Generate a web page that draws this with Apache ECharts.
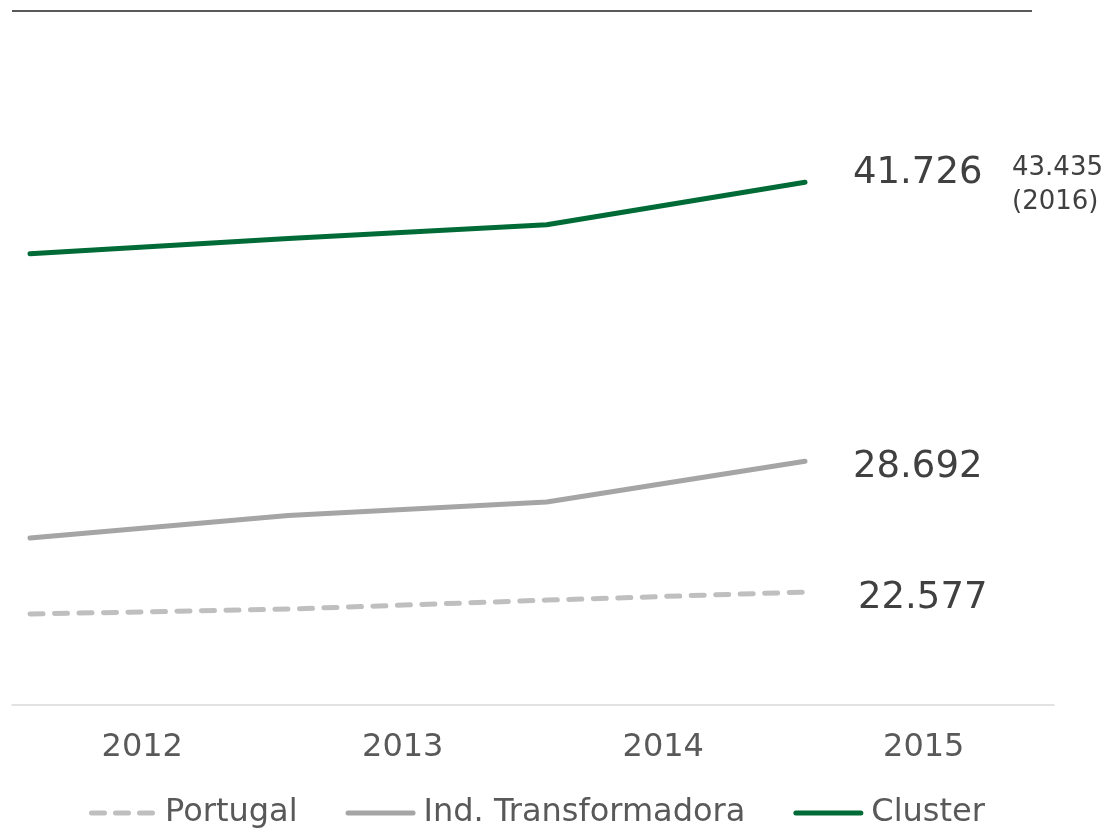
<!DOCTYPE html>
<html>
<head>
<meta charset="utf-8">
<style>
    html, body { margin: 0; padding: 0; background: #fff; }
    #chart { width: 1109px; height: 828px; }
</style>
<script src="https://cdn.jsdelivr.net/npm/echarts@6/dist/echarts.min.js"></script>
</head>
<body>
<div id="chart"></div>
<script>
// valores em milhares de euros (leitura do gráfico)
const years = ['2012', '2013', '2014', '2015'];
const portugal = [21.55, 21.78, 22.20, 22.577];
const indTransformadora = [25.10, 26.15, 26.78, 28.692];
const cluster = [38.38, 39.10, 39.74, 41.726];
const cluster2016 = 43.435;

const FONT = '"DejaVu Sans", Verdana, sans-serif';

// ícones da legenda: traço contínuo e tracejado
const ICON_SOLID = 'path://M2.5,0h65a2.5,2.5,0,0,1,0,5h-65a2.5,2.5,0,0,1,0,-5z';
const ICON_DASH = 'path://M2.5,0h13a2.5,2.5,0,0,1,0,5h-13a2.5,2.5,0,0,1,0,-5z'
    + 'M26.5,0h13a2.5,2.5,0,0,1,0,5h-13a2.5,2.5,0,0,1,0,-5z'
    + 'M50.5,0h13a2.5,2.5,0,0,1,0,5h-13a2.5,2.5,0,0,1,0,-5z';

function fmt(v) {
    return Number(v).toFixed(3);
}

function endLabel(distance, offsetY) {
    return {
        show: true,
        formatter: (p) => fmt(p.value),
        fontFamily: FONT,
        fontSize: 37,
        color: '#404040',
        distance: distance,
        offset: [0, offsetY]
    };
}

const chart = echarts.init(document.getElementById('chart'));

chart.setOption({
    animation: false,
    grid: [
        // eixo das categorias
        { left: 12, right: 55, top: 10, bottom: 123 },
        // área das linhas
        { left: 30, right: 304, top: 10, bottom: 123 }
    ],
    xAxis: [
        {
            gridIndex: 0,
            type: 'category',
            data: years,
            boundaryGap: true,
            axisLine: { lineStyle: { color: '#d9d9d9', width: 1.5 } },
            axisTick: { show: false },
            axisLabel: {
                color: '#595959',
                fontFamily: FONT,
                fontSize: 32,
                margin: 27
            }
        },
        {
            gridIndex: 1,
            type: 'category',
            data: years,
            boundaryGap: false,
            show: false
        }
    ],
    yAxis: [
        { gridIndex: 0, type: 'value', show: false, min: 0, max: 1 },
        {
            gridIndex: 1,
            type: 'value',
            min: 17.3,
            max: 49.77,
            show: false
        }
    ],
    legend: {
        left: 84,
        top: 792,
        itemWidth: 70,
        itemHeight: 5,
        itemGap: 48,
        textStyle: { color: '#595959', fontFamily: FONT, fontSize: 32, padding: [0, 0, 0, 3] },
        data: [
            { name: 'Portugal', icon: ICON_DASH },
            { name: 'Ind. Transformadora', icon: ICON_SOLID },
            { name: 'Cluster', icon: ICON_SOLID }
        ]
    },
    graphic: [
        {
            type: 'line',
            shape: { x1: 12, y1: 11, x2: 1032, y2: 11 },
            style: { stroke: '#595959', lineWidth: 2 }
        },
        {
            type: 'text',
            left: 1012,
            top: 151,
            style: {
                text: fmt(cluster2016) + '\n(2016)',
                fill: '#404040',
                font: '26px ' + FONT,
                lineHeight: 34
            }
        }
    ],
    series: [
        {
            name: 'Portugal',
            type: 'line',
            xAxisIndex: 1,
            yAxisIndex: 1,
            data: portugal,
            symbol: 'none',
            lineStyle: { color: '#bfbfbf', width: 5, type: [13, 11.5], cap: 'round' },
            itemStyle: { color: '#bfbfbf' },
            endLabel: endLabel(53, 6)
        },
        {
            name: 'Ind. Transformadora',
            type: 'line',
            xAxisIndex: 1,
            yAxisIndex: 1,
            data: indTransformadora,
            symbol: 'none',
            lineStyle: { color: '#a5a5a5', width: 5, cap: 'round' },
            itemStyle: { color: '#a5a5a5' },
            endLabel: endLabel(48, 6)
        },
        {
            name: 'Cluster',
            type: 'line',
            xAxisIndex: 1,
            yAxisIndex: 1,
            data: cluster,
            symbol: 'none',
            lineStyle: { color: '#006b37', width: 5, cap: 'round' },
            itemStyle: { color: '#006b37' },
            endLabel: endLabel(48, -9)
        }
    ]
});
</script>
</body>
</html>
